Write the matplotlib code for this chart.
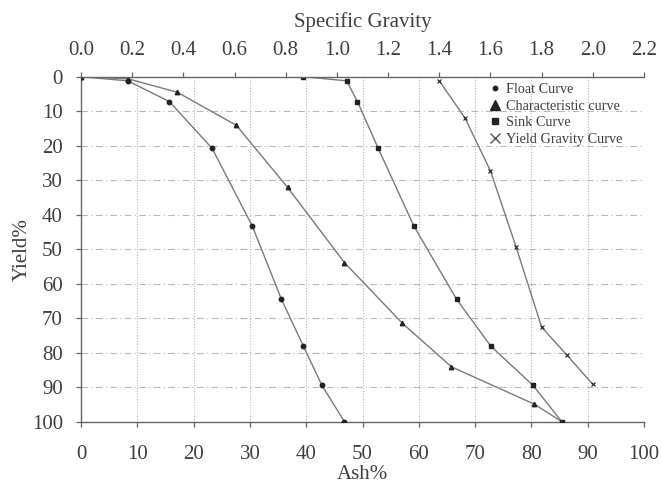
import matplotlib
matplotlib.use("Agg")
import matplotlib.pyplot as plt
from matplotlib.lines import Line2D
import numpy as np

# ---- data ----
float_ash = [0, 8.3, 15.7, 23.3, 30.4, 35.6, 39.5, 42.8, 46.8]
float_yield = [0, 1.2, 7.2, 20.8, 43.2, 64.5, 78.1, 89.5, 100]

char_ash = [0, 8.3, 17.1, 27.6, 36.7, 46.8, 57.1, 65.8, 80.5, 85.4]
char_yield = [0, 0.6, 4.5, 14.1, 32.1, 53.9, 71.5, 84.1, 94.9, 100]

sink_ash = [39.5, 47.2, 49.1, 52.8, 59.1, 66.7, 72.8, 80.3, 85.4]
sink_yield = [0, 1.2, 7.2, 20.8, 43.2, 64.5, 78.1, 89.5, 100]

gravity_sg = [1.4, 1.5, 1.6, 1.7, 1.8, 1.9, 2.0]
gravity_yield = [1.2, 11.9, 27.3, 49.3, 72.6, 80.8, 89.2]

ash_ticks = list(range(0, 101, 10))
yield_ticks = list(range(0, 101, 10))
sg_ticks = [0.0, 0.2, 0.4, 0.6, 0.8, 1.0, 1.2, 1.4, 1.6, 1.8, 2.0, 2.2]

legend_labels = ["Float Curve", "Characteristic curve", "Sink Curve", "Yield Gravity Curve"]

# ---- style ----
plt.rcParams['font.family'] = ['Liberation Serif', 'DejaVu Serif']
TXT = '#3f3f3f'
LINE = '#7a7a7a'
MK = '#222222'
SP = '#666666'
GRID = '#b8b8b8'

fig = plt.figure(figsize=(6.62, 4.84), dpi=100)
ax = fig.add_axes([81/662, 1-421.7/484, (644-81)/662, (421.7-76.7)/484])

ax.set_xlim(0, 100)
ax.set_ylim(100, 0)
ax.set_xticks(ash_ticks)
ax.set_yticks(yield_ticks)

# grid
for v in ash_ticks[1:-1]:
    ax.axvline(v, color=GRID, lw=0.8, ls=(0, (1, 1.5)), zorder=0)
for h in yield_ticks[1:-1]:
    ax.axhline(h, color=GRID, lw=0.8, ls=(0, (6, 3, 1, 3)), zorder=0)

lkw = dict(color=LINE, lw=1.0, markerfacecolor=MK, markeredgecolor=MK, zorder=3)
ax.plot(float_ash, float_yield, marker='o', ms=3.2, **lkw)
ax.plot(char_ash, char_yield, marker='^', ms=3.2, **lkw)
ax.plot(sink_ash, sink_yield, marker='s', ms=3.2, **lkw)

ax2 = ax.twiny()
ax2.set_xlim(0, 2.2)
ax2.set_xticks(sg_ticks)
ax2.set_xticklabels([f"{t:.1f}" for t in sg_ticks])
ax2.plot(gravity_sg, gravity_yield, marker='x', ms=3.5, mew=0.8, **lkw)

for a in (ax, ax2):
    for s in a.spines.values():
        s.set_color(SP)
        s.set_linewidth(1.0)
    a.spines['right'].set_visible(False)
    a.tick_params(colors=SP, labelcolor=TXT, labelsize=15, length=3.6, width=0.9, direction='out')

ax.spines['top'].set_visible(False)
ax2.spines['bottom'].set_visible(False)
ax2.spines['left'].set_visible(False)
ax.tick_params(axis='x', pad=13.5)
ax.tick_params(axis='y', pad=9.5)
ax2.tick_params(axis='x', pad=8.5)

ax.set_xlabel("Ash%", fontsize=15, color=TXT, labelpad=0.5)
ax.set_ylabel("Yield%", fontsize=15, color=TXT, labelpad=0)
ax2.set_xlabel("Specific Gravity", fontsize=15, color=TXT, labelpad=10)

handles = [
    Line2D([], [], ls='none', marker='o', ms=3.2, color=MK),
    Line2D([], [], ls='none', marker='^', ms=7, color=MK),
    Line2D([], [], ls='none', marker='s', ms=5, color=MK),
    Line2D([], [], ls='none', marker='x', ms=7, mew=1.0, color='#555555'),
]
leg = ax2.legend(handles, legend_labels, loc='upper left', bbox_to_anchor=(0.72, 0.99),
                 frameon=False, fontsize=10.3, handlelength=0.8, handletextpad=0.4,
                 labelspacing=0.25, borderaxespad=0, borderpad=0.2)
for t in leg.get_texts():
    t.set_color(TXT)

fig.savefig("out.png", dpi=100)
